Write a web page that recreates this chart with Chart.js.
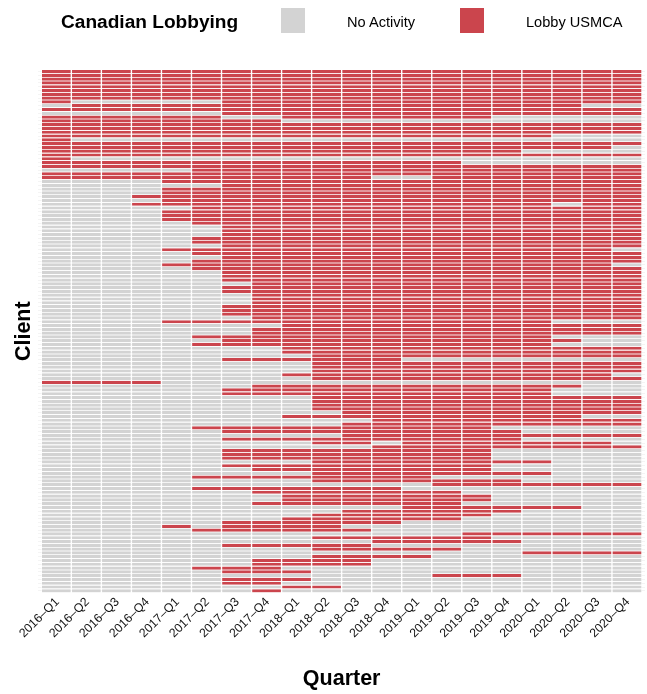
<!DOCTYPE html>
<html>
<head>
<meta charset="utf-8">
<script src="https://cdn.jsdelivr.net/npm/chart.js@4"></script>
<style>
  html, body { margin: 0; padding: 0; background: #fff; }
  #wrap { position: relative; width: 647px; height: 694px; font-family: "Liberation Sans", Arial, sans-serif; color: #000; overflow: hidden; }
  #wrap span { position: absolute; white-space: nowrap; line-height: 1; }
  .title { left: 61px; top: 12px; font-size: 19.1px; font-weight: bold; }
  .label { top: 15px; font-size: 14.6px; }
  .swatch { position: absolute; top: 8px; width: 24px; height: 25px; }
</style>
</head>
<body>
<div id="wrap">
  <canvas id="chart" width="647" height="694"></canvas>
  <span class="title">Canadian Lobbying</span>
  <div class="swatch" style="left:281px;background:#d3d3d3"></div>
  <span class="label" style="left:347px">No Activity</span>
  <div class="swatch" style="left:460px;background:#cb454d"></div>
  <span class="label" style="left:526px">Lobby USMCA</span>
</div>
<script>
const quarters = ['2016–Q1', '2016–Q2', '2016–Q3', '2016–Q4', '2017–Q1', '2017–Q2', '2017–Q3', '2017–Q4', '2018–Q1', '2018–Q2',
  '2018–Q3', '2018–Q4', '2019–Q1', '2019–Q2', '2019–Q3', '2019–Q4', '2020–Q1', '2020–Q2', '2020–Q3', '2020–Q4'];

// one string per client, top to bottom, one char per quarter (1 = lobbied on USMCA)
const clientRows = [
  '11111111111111111111', '11111111111111111111', '11111111111111111111', '11111111111111111111',
  '11111111111111111111', '11111111111111111111', '11111111111111111111', '11111111111111111111',
  '10000011111111111111', '01111111111111111100', '11111111111111111111', '00000011111111111111',
  '11111100111111100000', '11111111000000000000', '11111111111111111111', '11111111111111111111',
  '11111111111111111111', '11111111111111111000', '10000000000000000000', '11111111111111111111',
  '11111111111111111110', '11111111111111110000', '11111111111111111111', '10000000000000000000',
  '11111111111111000000', '11111111111111111111', '00000111111111111111', '11111111111111111111',
  '11111111111001111111', '00001111111111111111', '00000011111111111111', '00001111111111111111',
  '00001111111111111111', '00011111111111111111', '00001111111111111111', '00011111111111111011',
  '00000111111111111111', '00001111111111111111', '00001111111111111111', '00001111111111111111',
  '00000111111111111111', '00000011111111111111', '00000011111111111111', '00000011111111111111',
  '00000111111111111111', '00000111111111111111', '00000011111111111111', '00001111111111111110',
  '00000111111111111111', '00000011111111111111', '00000111111111111111', '00001111111111111110',
  '00000111111111111111', '00000011111111111111', '00000011111111111111', '00000011111111111111',
  '00000001111111111111', '00000011111111111111', '00000011111111111111', '00000001111111111111',
  '00000001111111111111', '00000001111111111111', '00000011111111111111', '00000011111111111111',
  '00000011111111111111', '00000001111111111111', '00001111111111111000', '00000000111111111111',
  '00000001111111111111', '00000001111111111111', '00000111111111111000', '00000011111111111100',
  '00000111111111111000', '00000000111111111111', '00000000111111111111', '00000000011111111111',
  '00000011111100000000', '00000000011111111111', '00000000011111111111', '00000000011111111111',
  '00000000111111111110', '00000000011111111111', '11110000000000000000', '00000001111111111100',
  '00000011111111111000', '00000011111111111000', '00000000011111111111', '00000000011111111111',
  '00000000011111111111', '00000000011111111111', '00000000001111111111', '00000000111111111100',
  '00000000000111111111', '00000000001111111111', '00000111111111100000', '00000011111111110000',
  '00000000001111111111', '00000011111111110000', '00000000011011111110', '00000000000111111111',
  '00000011111111100000', '00000011111111100000', '00000011111111100000', '00000000011111111000',
  '00000011111111100000', '00000001111111100000', '00000000011111111000', '00000111111110000000',
  '00000000011111110000', '00000000000001111111', '00000111111100000000', '00000001111111000000',
  '00000000111111100000', '00000000111111100000', '00000001111111000000', '00000000000011111100',
  '00000000001111110000', '00000000011111100000', '00000000111111000000', '00000011111100000000',
  '00001011110000000000', '00000111111000000000', '00000000000000111111', '00000000011111100000',
  '00000000000111110000', '00000011111000000000', '00000000011111000000', '00000000000000001111',
  '00000000011110000000', '00000001111000000000', '00000001111000000000', '00000111000000000000',
  '00000011100000000000', '00000000000001110000', '00000011100000000000', '00000011000000000000',
  '00000000110000000000', '00000001000000000000'
];

const RED = '#cb454d';
const GREY = '#d3d3d3';

const datasets = quarters.map((q, col) => ({
  label: q,
  data: clientRows.map(() => 1),
  backgroundColor: clientRows.map(row => row[col] === '1' ? RED : GREY),
  borderColor: '#ffffff',
  borderWidth: { left: 0.7, right: 0.7, top: 0, bottom: 0 },
  borderSkipped: false,
  barPercentage: 0.84,
  categoryPercentage: 1
}));

new Chart(document.getElementById('chart').getContext('2d'), {
  type: 'bar',
  data: { labels: clientRows.map((r, i) => 'Client ' + (i + 1)), datasets },
  options: {
    indexAxis: 'y',
    responsive: false,
    animation: false,
    layout: { padding: { top: 69.7, right: 2 } },
    plugins: { legend: { display: false }, tooltip: { enabled: false } },
    scales: {
      x: {
        type: 'linear',
        stacked: true,
        min: -0.1,
        max: 20.1,
        grid: { display: false },
        border: { display: false },
        afterBuildTicks: axis => { axis.ticks = quarters.map((q, i) => ({ value: i + 0.5 })); },
        afterFit: axis => { axis.height = 101.3; },
        ticks: {
          autoSkip: false,
          minRotation: 45,
          maxRotation: 45,
          padding: -6,
          labelOffset: 1,
          color: '#111',
          font: { family: '"Liberation Sans"', size: 12.3 },
          callback: value => quarters[Math.round(value - 0.5)]
        },
        title: {
          display: true,
          text: 'Quarter',
          color: '#000',
          font: { family: '"Liberation Sans"', size: 21.5, weight: 'bold' },
          padding: { top: 0, bottom: 2 }
        }
      },
      y: {
        stacked: true,
        grid: { offset: false, color: '#ececec', lineWidth: 0.6, drawTicks: false },
        border: { display: false },
        afterFit: axis => { axis.width = 38.3; },
        ticks: { display: false },
        title: {
          display: true,
          text: 'Client',
          color: '#000',
          font: { family: '"Liberation Sans"', size: 21.5, weight: 'bold' },
          padding: { top: 11, bottom: 0 }
        }
      }
    }
  }
});
</script>
</body>
</html>
